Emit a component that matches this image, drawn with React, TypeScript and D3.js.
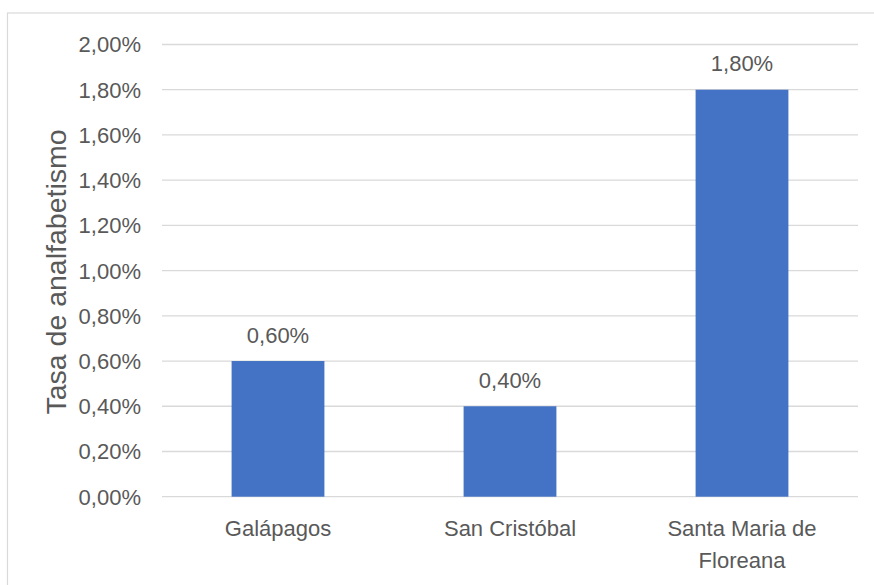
import * as d3 from "d3";

/** chart data */
const categories = ["Galápagos", "San Cristóbal", "Santa Maria de Floreana"];
const categoryLines = [["Galápagos"], ["San Cristóbal"], ["Santa Maria de", "Floreana"]];
const rates = [0.6, 0.4, 1.8];
const yTicks = [0, 0.2, 0.4, 0.6, 0.8, 1.0, 1.2, 1.4, 1.6, 1.8, 2.0];
const yTitle = "Tasa de analfabetismo";

/** svg dimensions */
const width = 874;
const height = 585;
const plot = { left: 162, right: 858, top: 44.5, bottom: 496.7 };

const textColor = "#595959";
const gridColor = "#D9D9D9";
const barColor = "#4472C4";
const font = "'Liberation Sans', Arial, sans-serif";

const fmt = (v: number) => v.toFixed(2).replace(".", ",") + "%";

const App = () => {
  const xScale = d3
    .scaleBand<string>()
    .domain(categories)
    .range([plot.left, plot.right])
    .paddingInner(0.6)
    .paddingOuter(0.3);
  const yScale = d3.scaleLinear().domain([0, 2]).range([plot.bottom, plot.top]);

  return (
    <svg
      width={width}
      height={height}
      viewBox={[0, 0, width, height].join(" ")}
      style={{ position: "absolute", left: 0, top: 0, background: "#fff" }}
      fontFamily={font}
    >
      {/* chart border */}
      <rect x={7.5} y={13} width={width} height={height} fill="#fff" stroke={gridColor} strokeWidth={1.2} />

      {/* gridlines and tick labels */}
      {yTicks.map((t) => (
        <g key={t}>
          <line
            x1={plot.left}
            x2={plot.right}
            y1={yScale(t)}
            y2={yScale(t)}
            stroke={gridColor}
            strokeWidth={1.3}
          />
          <text
            x={141}
            y={yScale(t)}
            dy="0.36em"
            textAnchor="end"
            fill={textColor}
            fontSize={22}
          >
            {fmt(t)}
          </text>
        </g>
      ))}

      {/* y-axis title */}
      <text
        transform={`translate(66, 272) rotate(-90)`}
        textAnchor="middle"
        fill={textColor}
        fontSize={28.5}
      >
        {yTitle}
      </text>

      {/* bars and value labels */}
      {categories.map((c, i) => {
        const x = xScale(c) ?? 0;
        const bw = xScale.bandwidth();
        return (
          <g key={c}>
            <rect
              x={x}
              y={yScale(rates[i])}
              width={bw}
              height={yScale(0) - yScale(rates[i])}
              fill={barColor}
            />
            <text
              x={x + bw / 2}
              y={yScale(rates[i]) - 18.5}
              textAnchor="middle"
              fill={textColor}
              fontSize={22}
            >
              {fmt(rates[i])}
            </text>
            <text x={x + bw / 2} y={536} textAnchor="middle" fill={textColor} fontSize={22}>
              {categoryLines[i].map((line, j) => (
                <tspan key={j} x={x + bw / 2} dy={j === 0 ? 0 : 32}>
                  {line}
                </tspan>
              ))}
            </text>
          </g>
        );
      })}
    </svg>
  );
};

export default App;
